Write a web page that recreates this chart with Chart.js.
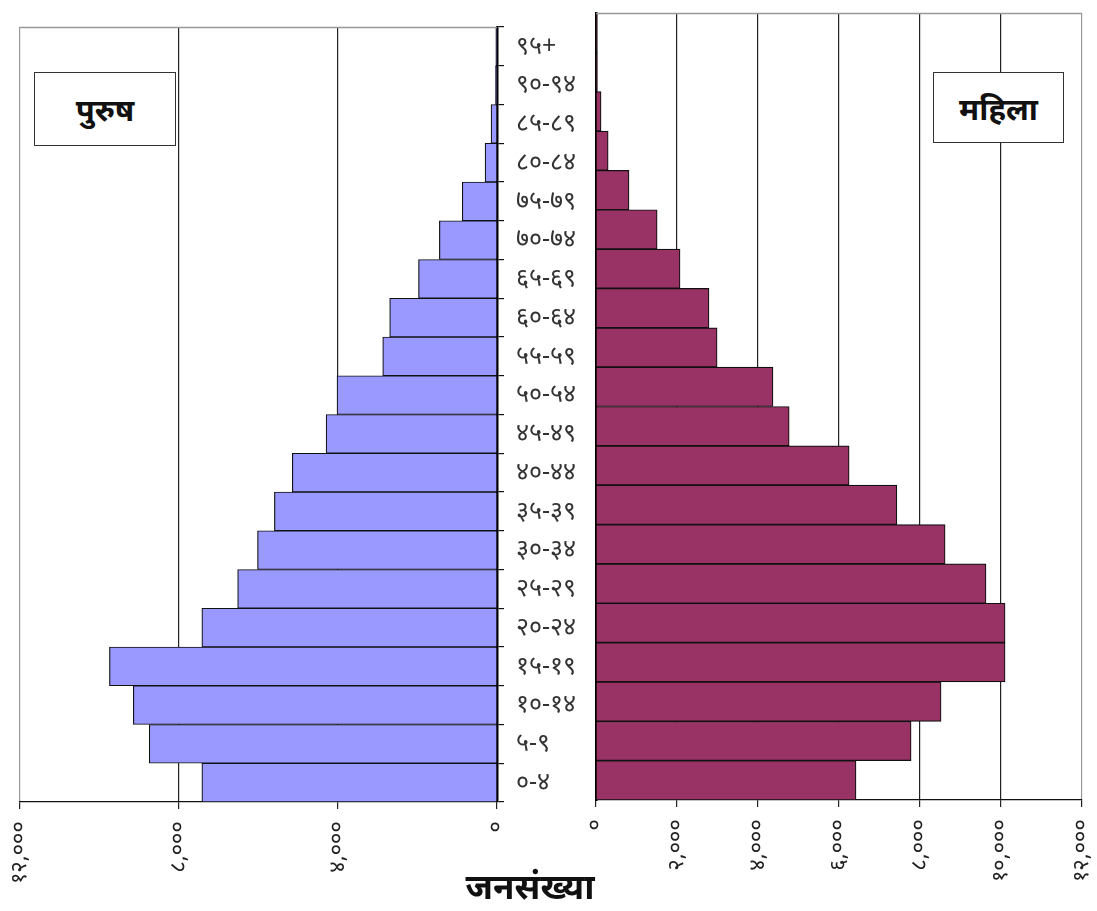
<!DOCTYPE html>
<html>
<head>
<meta charset="utf-8">
<script src="https://cdn.jsdelivr.net/npm/chart.js@4.4.1/dist/chart.umd.min.js"></script>
<style>
    body { margin: 0; background: #fff; width: 1097px; height: 911px; position: relative; overflow: hidden; font-family: 'Noto Sans', sans-serif; }
    canvas { position: absolute; top: 0; }
    #left { left: 0; z-index: 2; }
    #right { left: 560px; z-index: 1; }
    .box { position: absolute; z-index: 3; border: 1.5px solid #333; background: #fff; display: flex; align-items: center; justify-content: center; font-weight: bold; font-size: 31px; color: #111; }
    #title { position: absolute; z-index: 3; left: 400px; width: 260px; top: 862px; text-align: center; font-weight: bold; font-size: 35px; color: #111; }
</style>
</head>
<body>
<canvas id="left" width="610" height="911"></canvas>
<canvas id="right" width="537" height="911"></canvas>
<div class="box" style="left:34px;top:72px;width:140px;height:72px;">पुरुष</div>
<div class="box" style="left:933px;top:72px;width:129px;height:69px;">महिला</div>
<div id="title">जनसंख्या</div>
<script>
const ageGroups = ['०-४', '५-९', '१०-१४', '१५-१९', '२०-२४', '२५-२९', '३०-३४', '३५-३९', '४०-४४', '४५-४९',
    '५०-५४', '५५-५९', '६०-६४', '६५-६९', '७०-७४', '७५-७९', '८०-८४', '८५-८९', '९०-९४', '९५+'];
const male = [7425, 8750, 9150, 9750, 7425, 6525, 6025, 5600, 5150, 4300,
    4025, 2875, 2700, 1975, 1450, 875, 300, 150, 40, 30];
const female = [6420, 7780, 8520, 10100, 10100, 9630, 8620, 7430, 6250, 4770,
    4370, 2990, 2790, 2075, 1510, 815, 300, 125, 25, 20];
const maleTicks = [0, 4000, 8000, 12000];
const femaleTicks = [0, 2000, 4000, 6000, 8000, 10000, 12000];

const devDigits = ['०', '१', '२', '३', '४', '५', '६', '७', '८', '९'];
function toDev(v) {
    return Number(v).toLocaleString('en-US').replace(/[0-9]/g, d => devDigits[d]);
}

const fontFam = "'Noto Sans', sans-serif";

// grey frame line along the top of the plot area
const frame = {
    id: 'frame',
    afterDraw(chart) {
        const {ctx, chartArea} = chart;
        ctx.save();
        ctx.strokeStyle = '#999';
        ctx.lineWidth = 1.5;
        ctx.beginPath();
        ctx.moveTo(chartArea.left, chartArea.top + 0.5);
        ctx.lineTo(chartArea.right, chartArea.top + 0.5);
        ctx.stroke();
        ctx.restore();
    }
};

function xScale(ticks, reverse, height) {
    return {
        type: 'linear',
        min: 0,
        max: 12000,
        reverse: reverse,
        afterBuildTicks: s => { s.ticks = ticks.map(v => ({value: v})); },
        afterFit: s => {
            s.height = height;
            s.paddingLeft = 0;
            s.paddingRight = 0;
        },
        grid: {
            color: c => (c.tick && c.tick.value === 12000) ? '#999' : '#222',
            lineWidth: 1.2,
            tickLength: 7,
            tickColor: '#222'
        },
        border: {color: '#111', width: 1.2},
        ticks: {
            minRotation: 90,
            maxRotation: 90,
            padding: 12,
            color: '#222',
            font: {family: fontFam, size: 22},
            callback: v => toDev(v)
        }
    };
}

Chart.defaults.animation = false;
Chart.defaults.plugins.legend.display = false;
Chart.defaults.plugins.tooltip.enabled = false;

new Chart(document.getElementById('left'), {
    type: 'bar',
    data: {
        labels: ageGroups,
        datasets: [{
            data: male,
            backgroundColor: '#9999ff',
            borderColor: '#111',
            borderWidth: 1.2,
            barPercentage: 1,
            categoryPercentage: 1
        }]
    },
    options: {
        responsive: false,
        devicePixelRatio: 1,
        indexAxis: 'y',
        layout: {padding: {left: 20, top: 8, right: 0, bottom: 0}},
        scales: {
            x: xScale(maleTicks, true, 109),
            y: {
                position: 'right',
                reverse: true,
                afterFit: s => { s.width = 113; },
                grid: {drawOnChartArea: false, tickLength: 7, tickColor: '#111', lineWidth: 1.2},
                border: {color: '#000', width: 2.5},
                ticks: {
                    padding: 12,
                    color: '#333',
                    font: {family: fontFam, size: 25}
                }
            }
        }
    },
    plugins: [frame]
});

new Chart(document.getElementById('right'), {
    type: 'bar',
    data: {
        labels: ageGroups,
        datasets: [{
            data: female,
            backgroundColor: '#993366',
            borderColor: '#111',
            borderWidth: 1.2,
            barPercentage: 1,
            categoryPercentage: 1
        }]
    },
    options: {
        responsive: false,
        devicePixelRatio: 1,
        indexAxis: 'y',
        layout: {padding: {left: 0, top: 13, right: 15, bottom: 0}},
        scales: {
            x: xScale(femaleTicks, false, 111),
            y: {
                position: 'left',
                reverse: true,
                afterFit: s => { s.width = 36; },
                grid: {display: false},
                border: {color: '#000', width: 2.5},
                ticks: {display: false}
            }
        }
    },
    plugins: [frame]
});
</script>
</body>
</html>
